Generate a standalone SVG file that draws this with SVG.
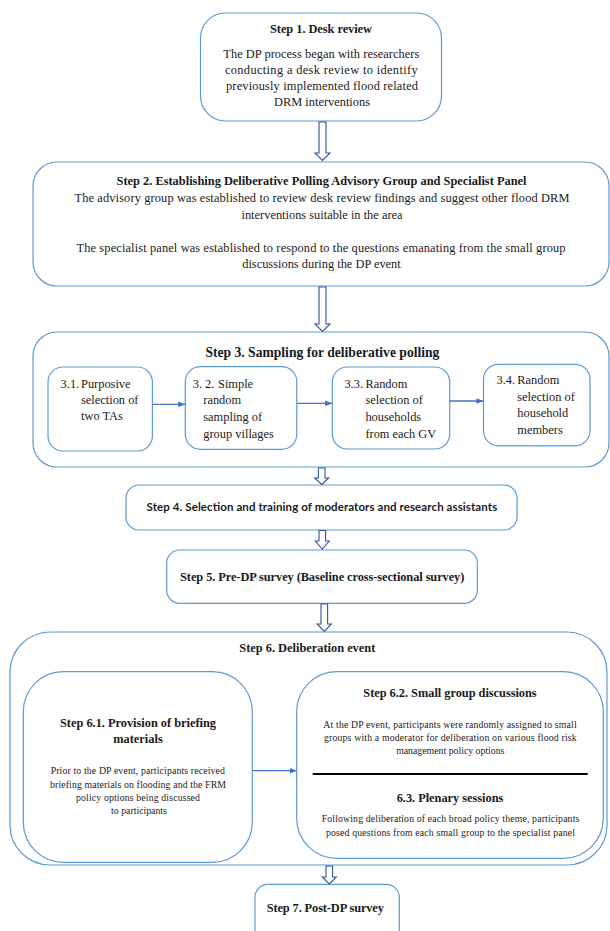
<svg xmlns="http://www.w3.org/2000/svg" width="610" height="931" viewBox="0 0 610 931">
<defs>
<marker id="ah" viewBox="0 0 10 8" refX="10" refY="4" markerWidth="5.5" markerHeight="4.4" orient="auto"><path d="M0,0 L10,4 L0,8 z" fill="#4472C4"/></marker>
</defs>
<style>
.box{fill:#fff;stroke:#5B9BD5;stroke-width:1.2}
.t{font-family:"Liberation Serif","Times New Roman",serif;fill:#1a1a1a;font-size:12.4px}
.b{font-weight:bold}
.c{text-anchor:middle}
.s{font-size:9.8px}
.h3{font-size:13.6px}
.sans{font-family:Lato,"Liberation Sans",Arial,sans-serif;font-size:11.5px;font-weight:bold;fill:#1a1a1a}
.blk{fill:#fff;stroke:#2F5597;stroke-width:1.1}
.ln{stroke:#4472C4;stroke-width:1.3;fill:none}
.sep{stroke:#000;stroke-width:2}
</style>
<rect width="610" height="931" fill="#fff"/>

<g id="step1">
<rect class="box" x="200.5" y="13" width="241" height="108" rx="25"/>
<text class="t b c" x="321" y="33" textLength="102">Step 1. Desk review</text>
<text class="t c" x="321.3" y="58" textLength="196">The DP process began with researchers</text>
<text class="t c" x="321.3" y="74" textLength="192.7">conducting a desk review to identify</text>
<text class="t c" x="322" y="90" textLength="192">previously implemented flood related</text>
<text class="t c" x="322" y="106">DRM interventions</text>
</g>

<g id="step2">
<rect class="box" x="33" y="162" width="576" height="124" rx="24"/>
<text class="t b c" x="321.5" y="185" textLength="410">Step 2. Establishing Deliberative Polling Advisory Group and Specialist Panel</text>
<text class="t c" x="322" y="202" textLength="495">The advisory group was established to review desk review findings and suggest other flood DRM</text>
<text class="t c" x="322" y="218.7">interventions suitable in the area</text>
<text class="t c" x="321" y="251.7" textLength="489">The specialist panel was established to respond to the questions emanating from the small group</text>
<text class="t c" x="321.5" y="268.3">discussions during the DP event</text>
</g>

<g id="step3">
<rect class="box" x="33" y="332" width="576" height="135" rx="24"/>
<text class="t b c h3" x="322.4" y="356.7" textLength="234">Step 3. Sampling for deliberative polling</text>
</g>

<g id="step3-1">
<rect class="box" x="48" y="367" width="104.4" height="84" rx="15"/>
<text class="t" y="388"><tspan x="60.6">3.1.</tspan><tspan x="81">Purposive</tspan></text>
<text class="t" x="81" y="404">selection of</text>
<text class="t" x="81" y="420">two TAs</text>
</g>

<g id="step3-2">
<rect class="box" x="185.3" y="366.7" width="111.5" height="82.6" rx="15"/>
<text class="t" y="387.7"><tspan x="192.7">3. 2.</tspan><tspan x="218">Simple</tspan></text>
<text class="t" x="203.3" y="404">random</text>
<text class="t" x="203.3" y="421">sampling of</text>
<text class="t" x="203.3" y="437.7">group villages</text>
</g>

<g id="step3-3">
<rect class="box" x="332.3" y="367" width="117.4" height="82" rx="15"/>
<text class="t" y="387.7"><tspan x="344.4">3.3.</tspan><tspan x="365.4">Random</tspan></text>
<text class="t" x="365.4" y="404">selection of</text>
<text class="t" x="365.4" y="421">households</text>
<text class="t" x="365.4" y="437.7">from each GV</text>
</g>

<g id="step3-4">
<rect class="box" x="483.5" y="364.3" width="106.5" height="81.5" rx="15"/>
<text class="t" y="384"><tspan x="496.5">3.4.</tspan><tspan x="517.3">Random</tspan></text>
<text class="t" x="517.3" y="400.5">selection of</text>
<text class="t" x="517.3" y="417">household</text>
<text class="t" x="517.3" y="433.5">members</text>
</g>

<g id="step4">
<rect class="box" x="126" y="485" width="391" height="45" rx="13"/>
<text class="sans c" x="321.9" y="510.7" textLength="350.6">Step 4. Selection and training of moderators and research assistants</text>
</g>

<g id="step5">
<rect class="box" x="166.7" y="550" width="310.6" height="53.3" rx="13"/>
<text class="t b c" x="322.2" y="580.7" textLength="284.3">Step 5. Pre-DP survey (Baseline cross-sectional survey)</text>
</g>

<g id="step6">
<rect class="box" x="10" y="632" width="597" height="233" rx="40"/>
<text class="t b" x="239.3" y="652.3" textLength="136">Step 6. Deliberation event</text>
</g>

<g id="step6-1">
<rect class="box" x="23.3" y="671.7" width="229" height="190.6" rx="40"/>
<text class="t b c" x="138" y="726.7" textLength="156">Step 6.1. Provision of briefing</text>
<text class="t b c" x="138" y="743.3">materials</text>
<text class="t c s" x="137.8" y="774.3" textLength="174.3">Prior to the DP event, participants received</text>
<text class="t c s" x="138" y="787.7" textLength="176">briefing materials on flooding and the FRM</text>
<text class="t c s" x="138" y="800.7" textLength="124">policy options being discussed</text>
<text class="t c s" x="139" y="814">to participants</text>
</g>

<g id="step6-2">
<rect class="box" x="296.7" y="671.7" width="306.6" height="186.6" rx="40"/>
<text class="t b c" x="450" y="696.7" textLength="173.4">Step 6.2. Small group discussions</text>
<text class="t c s" x="450" y="727.7" textLength="253.3">At the DP event, participants were randomly assigned to small</text>
<text class="t c s" x="450.3" y="741" textLength="252.7">groups with a moderator for deliberation on various flood risk</text>
<text class="t c s" x="450.3" y="754.3">management policy options</text>
<line class="sep" x1="312.7" y1="774" x2="587.7" y2="774"/>
<text class="t b c" x="450" y="802.3" textLength="106.7">6.3. Plenary sessions</text>
<text class="t c s" x="450.5" y="821.7" textLength="257.7">Following deliberation of each broad policy theme, participants</text>
<text class="t c s" x="450.5" y="836" textLength="249">posed questions from each small group to the specialist panel</text>
</g>

<g id="step7">
<rect class="box" x="255" y="884.3" width="144.3" height="60" rx="13"/>
<text class="t b c" x="325.3" y="911.7" textLength="117.3">Step 7. Post-DP survey</text>
</g>

<g id="connectors">
<path class="blk" d="M319,122 H326 V153 H330 L322.5,160.5 L315,153 H319 Z"/>
<path class="blk" d="M319,287 H326 V324 H330 L322.5,331.5 L315,324 H319 Z"/>
<path class="blk" d="M318.4,468 H325 V478 H328.7 L321.7,484.5 L314.7,478 H318.4 Z"/>
<path class="blk" d="M319,530.5 H325.6 V541 H329.3 L322.3,549 L315.3,541 H319 Z"/>
<path class="blk" d="M321,604 H327.6 V624 H331.3 L324.3,631.5 L317.3,624 H321 Z"/>
<path class="blk" d="M326,866 H332.6 V877 H336.3 L329.3,884 L322.3,877 H326 Z"/>
<line class="ln" x1="152.4" y1="404.3" x2="185.3" y2="404.3" marker-end="url(#ah)"/>
<line class="ln" x1="296.8" y1="403.3" x2="332.3" y2="403.3" marker-end="url(#ah)"/>
<line class="ln" x1="449.7" y1="401" x2="483.5" y2="401" marker-end="url(#ah)"/>
<line class="ln" x1="252.3" y1="770.7" x2="296.7" y2="770.7" marker-end="url(#ah)"/>
</g>
</svg>
